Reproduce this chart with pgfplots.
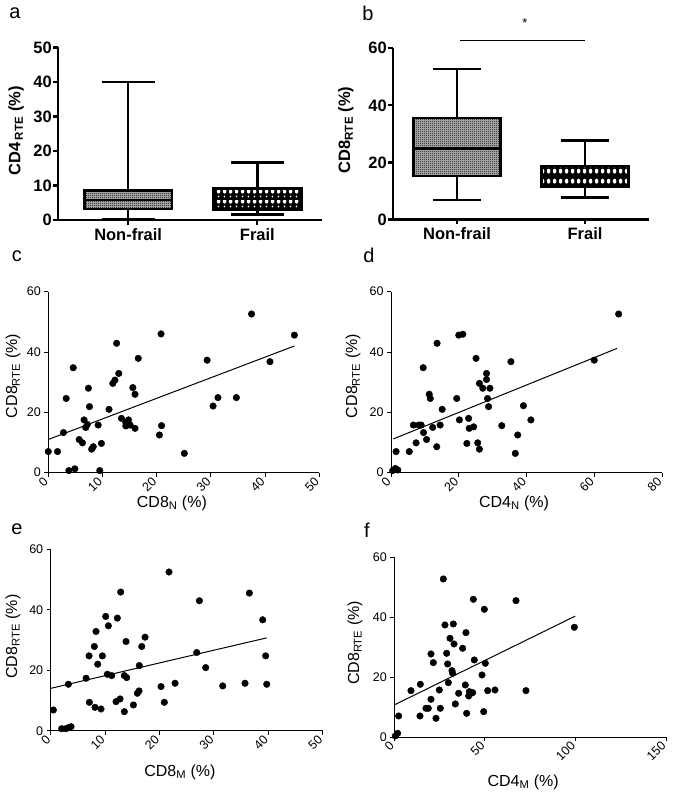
\documentclass[border=0pt]{standalone}
\usepackage{fontspec}
\setmainfont{Liberation Sans}
\usepackage{pgfplots}
\pgfplotsset{compat=1.18}
\usepgfplotslibrary{statistics}
\usetikzlibrary{patterns}

\pgfdeclarepatternformonly{finecheck}{\pgfpointorigin}{\pgfpoint{2pt}{2pt}}{\pgfpoint{2pt}{2pt}}{%
  \pgfpathrectangle{\pgfpointorigin}{\pgfpoint{1pt}{1pt}}%
  \pgfpathrectangle{\pgfpoint{1pt}{1pt}}{\pgfpoint{1pt}{1pt}}%
  \pgfusepath{fill}}
\pgfdeclarepatternformonly{bigdots}{\pgfpointorigin}{\pgfpoint{6pt}{10pt}}{\pgfpoint{6pt}{10pt}}{%
  \pgfpathellipse{\pgfpoint{3pt}{3pt}}{\pgfpoint{2.1pt}{0pt}}{\pgfpoint{0pt}{2.6pt}}%
  \pgfpathcircle{\pgfpoint{3pt}{8pt}}{1pt}%
  \pgfusepath{fill}}

\tikzset{
  grey box/.style={draw=black, line width=2.6pt, pattern=finecheck, pattern color=black, preaction={fill=black!28}},
  dot box/.style={draw=black, line width=2.6pt, pattern=bigdots, pattern color=white, preaction={fill=black}},
  thickbp/.style={line width=2.6pt},
}

\newcommand{\fbig}{\fontsize{16.5}{19}\selectfont\bfseries}
\newcommand{\fsm}{\fontsize{12.5}{14}\selectfont}
\newcommand{\flab}{\fontsize{16}{18}\selectfont}

\pgfplotsset{
  boxax/.style={
    anchor=south west, scale only axis,
    axis x line*=bottom, axis y line*=left,
    axis line style={line width=2.2pt},
    tick align=outside, major tick length=5pt,
    tick style={black, line width=2.2pt},
    ticklabel style={font=\fbig},
    yticklabel style={inner sep=1pt},
    /pgf/number format/assume math mode=true,
    xtick={1,2}, xticklabels={Non-frail,Frail},
    label style={font=\fbig},
    boxplot/draw direction=y,
    every axis plot/.append style={line width=2.6pt},
    clip=false,
  },
  bp/.style={black, line width=2.6pt, mark options={line width=2.6pt}},
  scax/.style={
    anchor=south west, scale only axis,
    axis x line*=bottom, axis y line*=left,
    axis line style={line width=1pt},
    tick align=outside, major tick length=4pt,
    tick style={black, line width=1pt},
    ticklabel style={font=\fsm},
    xticklabel style={rotate=45, anchor=east},
    /pgf/number format/assume math mode=true,
    ymin=0, ymax=60, ytick={0,20,40,60}, xmin=0,
    label style={font=\flab},
    ylabel={CD8\textsubscript{RTE} (\%)},
    clip=false,
  },
  dots/.style={only marks, mark=*, mark size=3.3pt, black},
  fitl/.style={black, line width=1pt, no marks},
}

\begin{document}
\begin{tikzpicture}
\path[use as bounding box] (0,0) rectangle (672pt,794pt);

% panel labels
\node[font=\fontsize{20}{22}\selectfont, inner sep=0] at (15pt,781pt) {a};
\node[font=\fontsize{20}{22}\selectfont, inner sep=0] at (368pt,781pt) {b};
\node[font=\fontsize{20}{22}\selectfont, inner sep=0] at (17pt,538pt) {c};
\node[font=\fontsize{20}{22}\selectfont, inner sep=0] at (369pt,539pt) {d};
\node[font=\fontsize{20}{22}\selectfont, inner sep=0] at (17pt,265pt) {e};
\node[font=\fontsize{20}{22}\selectfont, inner sep=0] at (367pt,264pt) {f};

% ---------- panel a
\begin{axis}[boxax, at={(58pt,574pt)}, width=264pt, height=172.5pt,
  xmin=0.457, xmax=2.5, ymin=0, ymax=50, ytick={0,10,20,30,40,50},
  ylabel={CD4\,\textsubscript{RTE} (\%)},
  ylabel style={at={(axis description cs:-0.159,0.516)}, anchor=center}]
\addplot[bp, boxplot prepared={draw position=1,
  lower whisker=0.3, lower quartile=3.2, median=5.8, upper quartile=8.5, upper whisker=40,
  box extend=0.68, whisker extend=0.41,
  every box/.style={grey box}, every whisker/.style={thickbp}, every median/.style={thickbp}}]
  coordinates {};
\addplot[bp, boxplot prepared={draw position=2,
  lower whisker=1.6, lower quartile=3.1, median=6.1, upper quartile=9.2, upper whisker=16.7,
  box extend=0.68, whisker extend=0.41,
  every box/.style={dot box}, every whisker/.style={thickbp}, every median/.style={thickbp}}]
  coordinates {};
\end{axis}

% ---------- panel b
\begin{axis}[boxax, at={(393pt,574.5pt)}, width=256pt, height=171.2pt,
  xmin=0.5, xmax=2.5, ymin=0, ymax=60, ytick={0,20,40,60},
  ylabel={CD8\textsubscript{RTE} (\%)},
  ylabel style={at={(axis description cs:-0.184,0.523)}, anchor=center}]
\addplot[bp, boxplot prepared={draw position=1,
  lower whisker=6.8, lower quartile=15.2, median=24.8, upper quartile=35.6, upper whisker=52.7,
  box extend=0.68, whisker extend=0.38,
  every box/.style={grey box}, every whisker/.style={thickbp}, every median/.style={thickbp}}]
  coordinates {};
\addplot[bp, boxplot prepared={draw position=2,
  lower whisker=7.7, lower quartile=11.5, median=15.0, upper quartile=18.8, upper whisker=27.7,
  box extend=0.68, whisker extend=0.38,
  every box/.style={dot box}, every whisker/.style={thickbp}, every median/.style={thickbp}}]
  coordinates {};
\draw[black, line width=0.8pt] (axis cs:1.023,62.7) -- (axis cs:2.0,62.7);
\node[font=\fontsize{13}{15}\selectfont, inner sep=0, anchor=north] at (axis cs:1.53,70.6) {*};
\end{axis}

% ---------- panel c
\begin{axis}[scax, at={(48.3pt,321.3pt)}, width=271pt, height=181pt,
  xmax=50, xtick={0,10,20,30,40,50},
  xlabel={CD8\textsubscript{N} (\%)},
  xlabel style={at={(axis description cs:0.456,-0.167)}, anchor=center},
  ylabel style={at={(axis description cs:-0.13,0.534)}, anchor=center}]
\addplot[dots] table {
x y
0.0 7.0
1.7 7.0
2.8 13.3
3.3 24.6
3.8 0.7
4.9 1.3
4.6 34.8
5.7 11.0
6.3 9.9
6.6 17.5
6.9 15.0
7.2 16.0
7.4 28.0
7.6 21.9
8.0 7.8
8.3 8.6
9.2 15.8
9.5 0.7
9.8 9.7
11.2 21.0
11.9 29.6
12.3 30.7
12.6 42.9
13.0 32.9
13.5 18.0
14.3 16.6
14.8 17.5
14.3 15.5
15.1 15.8
15.6 28.2
16.0 26.0
16.0 14.7
16.6 37.9
20.5 12.5
20.8 46.0
20.9 15.6
25.1 6.4
29.3 37.3
30.4 22.1
31.3 24.9
34.7 24.9
37.5 52.6
40.9 36.8
45.4 45.6
};
\addplot[fitl] coordinates {(0,11.0) (45.4,42.0)};
\end{axis}

% ---------- panel d
\begin{axis}[scax, at={(391pt,321.3pt)}, width=271pt, height=181pt,
  xmax=80, xtick={0,20,40,60,80},
  xlabel={CD4\textsubscript{N} (\%)},
  xlabel style={at={(axis description cs:0.454,-0.167)}, anchor=center},
  ylabel style={at={(axis description cs:-0.14,0.534)}, anchor=center}]
\addplot[dots] table {
x y
0.5 0.7
1.3 1.4
2.0 0.9
1.5 7.0
5.4 7.0
7.4 9.9
6.6 15.8
8.2 15.8
8.9 15.8
9.5 34.8
9.6 13.3
10.5 11.0
11.3 26.0
11.6 24.6
12.3 15.0
13.5 8.6
13.6 42.9
14.5 15.8
15.1 21.0
19.4 24.6
20.0 45.6
20.2 17.5
21.2 45.9
22.4 9.7
22.9 18.0
23.1 14.7
24.4 15.2
25.1 37.9
25.6 9.9
26.1 7.8
26.1 29.6
27.1 28.0
28.2 32.9
28.2 30.9
28.5 24.6
28.8 21.9
29.2 28.0
32.7 15.6
35.4 36.8
36.7 6.4
37.4 12.5
39.1 22.2
41.3 17.5
60.0 37.3
67.2 52.6
};
\addplot[fitl] coordinates {(0.7,11.2) (66.7,41.2)};
\end{axis}

% ---------- panel e
\begin{axis}[scax, at={(50.7pt,63.3pt)}, width=272pt, height=181.4pt,
  xmax=50, xtick={0,10,20,30,40,50},
  xlabel={CD8\textsubscript{M} (\%)},
  xlabel style={at={(axis description cs:0.475,-0.228)}, anchor=center},
  ylabel style={at={(axis description cs:-0.139,0.519)}, anchor=center}]
\addplot[dots] table {
x y
0.49 6.85
2.02 0.66
2.76 0.66
3.25 0.99
3.74 1.33
3.25 15.36
6.50 17.35
7.05 24.75
7.11 9.39
8.03 27.85
8.15 7.73
8.33 32.82
8.64 21.99
9.25 7.18
9.50 24.75
10.11 37.79
10.42 18.67
11.21 18.23
10.60 34.70
12.25 37.24
12.01 9.61
12.75 10.50
12.87 45.86
13.54 6.30
13.54 18.23
13.97 17.57
13.85 29.50
15.20 8.51
15.93 12.38
16.24 13.15
16.30 21.55
16.73 27.85
17.34 30.94
20.28 14.59
20.89 9.39
21.75 52.49
22.86 15.69
26.84 25.86
27.33 42.98
28.49 20.88
31.62 14.81
35.72 15.69
36.52 45.52
38.97 36.69
39.52 24.75
39.71 15.36
};
\addplot[fitl] coordinates {(0,14.0) (39.7,30.7)};
\end{axis}

% ---------- panel f
\begin{axis}[scax, at={(394.3pt,56.7pt)}, width=271.7pt, height=180pt,
  xmax=150, xtick={0,50,100,150},
  xlabel={CD4\textsubscript{M} (\%)},
  xlabel style={at={(axis description cs:0.474,-0.248)}, anchor=center},
  ylabel style={at={(axis description cs:-0.145,0.524)}, anchor=center}]
\addplot[dots] table {
x y
0.55 0.44
1.84 1.33
2.39 7.11
9.20 15.56
14.36 17.67
14.17 7.11
17.49 9.67
18.77 9.67
20.25 12.67
20.25 27.78
21.54 24.89
23.01 6.33
24.85 15.78
25.40 9.67
27.06 52.78
27.98 37.44
28.90 28.00
29.45 24.44
29.82 18.22
30.74 33.00
31.84 22.22
32.21 21.33
32.58 37.78
32.95 31.11
33.68 11.11
35.52 14.67
37.73 29.67
39.20 17.44
39.57 34.89
39.94 8.00
41.05 13.78
41.41 15.22
42.33 14.67
43.25 14.89
43.62 46.00
44.17 25.78
48.41 20.78
49.33 8.56
49.70 42.67
50.25 24.67
51.54 15.56
55.59 15.78
67.18 45.56
72.70 15.56
99.39 36.67
};
\addplot[fitl] coordinates {(0,10.8) (99.9,40.4)};
\end{axis}
\end{tikzpicture}
\end{document}
